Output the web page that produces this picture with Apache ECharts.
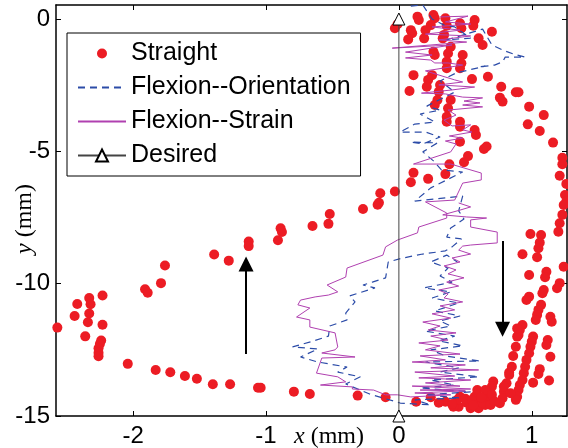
<!DOCTYPE html>
<html>
<head>
<meta charset="utf-8">
<script src="https://cdn.jsdelivr.net/npm/echarts@6/dist/echarts.min.js"></script>
<style>
  html, body { margin: 0; padding: 0; background: #fff; }
  #chart { width: 568px; height: 448px; }
</style>
</head>
<body>
<div id="chart"></div>
<script>
// Tick positions (mm)
const xTicks = [-2, -1, 0, 1];
const yTicks = [0, -5, -10, -15];

// Straight-finger tip positions [x, y] in mm
const straightPts = [
  [-2.57,-11.66],[-2.42,-10.77],[-2.44,-11.22],[-2.33,-10.54],[-2.32,-10.78],[-2.33,-11.13],[-2.34,-11.46],[-2.36,-11.99],
  [-2.23,-10.45],[-2.23,-11.55],[-2.24,-12.15],[-2.25,-12.28],[-2.26,-12.44],[-2.26,-12.61],[-2.26,-12.74],[-2.04,-13.03],
  [-1.83,-13.26],[-1.72,-13.35],[-1.61,-13.49],[-1.52,-13.59],[-1.91,-10.21],[-1.89,-10.34],[-1.79,-9.98],[-1.76,-9.31],
  [-1.40,-13.80],[-1.27,-13.80],[-1.04,-13.93],[-1.06,-13.93],[-0.79,-14.08],[-0.67,-14.17],[-0.31,-14.23],[-0.10,-14.29],
  [-1.39,-8.90],[-1.28,-9.13],[-1.13,-8.41],[-1.13,-8.58],[-0.91,-8.36],[-0.89,-7.91],[-0.88,-8.05],[-0.65,-7.82],
  [-0.53,-7.74],[-0.52,-7.37],[-0.27,-7.18],[-0.16,-7.02],[-0.15,-6.94],[-0.14,-6.58],[-0.03,-6.52],
  [0.11,-5.81],[0.09,-6.17],[0.22,-6.04],[0.35,-5.86],[0.38,-5.49],[0.49,-5.41],[0.52,-5.18],[0.46,-4.64],[0.64,-4.91],[0.66,-4.82],
  [-0.03,-0.35],[-0.01,-0.20],[0.14,0.09],[0.15,-0.04],[0.09,-0.42],[0.10,-0.54],[0.07,-0.77],[0.26,0.15],[0.27,0.03],
  [0.24,-0.23],[0.20,-0.42],[0.19,-0.73],[0.35,0.03],[0.36,-0.25],[0.34,-0.60],[0.33,-0.73],[0.46,-0.16],[0.47,-0.35],
  [0.57,-0.04],[0.56,-0.25],[0.60,-0.73],[0.63,-0.98],[0.70,-0.48],[0.26,-1.24],[0.27,-1.36],[0.39,-1.05],[0.37,-1.30],
  [0.36,-1.61],[0.36,-1.86],[0.48,-1.36],[0.47,-1.67],[0.46,-1.86],[0.11,-2.12],[0.08,-2.72],[0.25,-2.12],[0.22,-2.30],
  [0.21,-2.56],[0.31,-2.49],[0.30,-2.75],[0.55,-2.27],[0.67,-2.18],[0.29,-3.06],[0.27,-3.25],[0.39,-3.06],[0.37,-3.37],
  [0.36,-3.69],[0.36,-3.88],[0.46,-3.88],[0.46,-4.07],[0.57,-4.19],[0.58,-4.38],
  [0.77,-2.56],[0.88,-2.77],[0.90,-2.77],[0.76,-2.97],[0.78,-3.12],[0.98,-3.31],[1.09,-3.63],[0.97,-3.98],[1.06,-4.23],
  [1.16,-4.67],[1.23,-5.24],[1.23,-5.49],[1.21,-5.92],[1.26,-6.23],[1.25,-6.65],[1.26,-6.90],
  [1.24,-7.03],[1.23,-7.40],[1.21,-7.72],[1.20,-8.04],[0.99,-8.12],[1.07,-8.16],[1.06,-8.45],[1.05,-8.66],[0.93,-8.89],
  [1.04,-9.00],[1.24,-9.36],[0.98,-9.67],[1.11,-9.55],[1.10,-9.76],[1.21,-9.98],[1.19,-10.17],[1.09,-10.24],[1.08,-10.36],
  [0.98,-10.49],[0.96,-10.62],[1.07,-10.80],[1.05,-10.99],[1.04,-11.18],[1.03,-11.37],[1.14,-11.25],[1.15,-11.44],
  [0.93,-11.56],[0.91,-11.75],[0.89,-12.00],[1.01,-12.00],[1.00,-12.19],[1.12,-12.13],[1.11,-12.32],[0.88,-12.38],
  [0.99,-12.38],[0.98,-12.63],[0.86,-12.73],[0.96,-12.88],[1.14,-12.76],[0.95,-13.14],[1.06,-13.23],[0.83,-13.36],
  [0.94,-13.38],[1.05,-13.41],[1.13,-13.66],[0.93,-13.64],[0.91,-13.83],[1.01,-13.74],[0.81,-13.76],[0.71,-13.70],
  [0.70,-13.89],[0.90,-14.02],[0.89,-14.27],[0.88,-14.39],[0.79,-14.08],[0.78,-14.33],[0.76,-14.52],[0.67,-14.08],
  [0.66,-14.33],[0.65,-14.58],[0.57,-14.27],[0.59,-14.52],[0.60,-14.71],
  [0.13,-14.46],[0.24,-14.29],[0.35,-14.46],[0.46,-14.27],[0.45,-14.65],[0.51,-14.50],[0.54,-14.71],[0.59,-14.02],
  [0.65,-14.02],[0.63,-14.52],[0.69,-14.58],[0.79,-13.89],[0.83,-13.45],[0.85,-13.14],[0.90,-11.94],[0.89,-11.69],
  [0.84,-14.14],[0.41,-14.65],[0.44,-14.39],[0.50,-14.35],[0.55,-14.40],[0.62,-14.30],[0.70,-14.20],[0.72,-14.45],
  [0.40,-14.55],[0.30,-14.50],[0.56,-14.60]
];

// Flexion tracked by orientation sensing [x, y] in mm
const orientationPts = [
  [0.09,0.49],[0.18,0.53],[0.25,0.00],[0.34,-0.23],[0.42,-0.30],[0.54,-0.72],[0.36,-0.79],[0.63,-0.38],[0.66,-0.64],
  [0.70,-0.98],[0.78,-1.17],[0.86,-1.32],[0.95,-1.44],[0.80,-1.44],[0.78,-1.62],[0.72,-1.74],[0.60,-1.81],[0.65,-1.78],
  [0.43,-2.04],[0.31,-2.34],[0.42,-2.76],[0.21,-3.29],[0.31,-3.44],[0.16,-3.59],[0.27,-3.89],[0.12,-3.97],[0.01,-4.27],
  [0.20,-4.27],[0.31,-4.46],[0.18,-4.72],[0.09,-4.65],[0.29,-4.68],[0.18,-5.02],[0.26,-5.36],[0.32,-5.70],[0.48,-5.78],
  [0.24,-6.38],[0.12,-6.88],[0.48,-6.69],[0.45,-7.25],[0.49,-7.56],[0.39,-7.90],[0.36,-8.24],[0.47,-8.31],[0.40,-8.61],
  [0.35,-8.76],[0.18,-8.88],[0.03,-9.03],[-0.08,-9.18],[-0.10,-9.78],[-0.20,-9.94],[-0.27,-10.05],[-0.18,-10.16],
  [-0.37,-10.46],[-0.33,-10.69],[-0.40,-11.11],[-0.39,-11.37],[-0.52,-11.60],[-0.53,-11.98],[-0.64,-12.16],[-0.80,-12.39],
  [-0.61,-12.47],[-0.74,-12.77],[-0.61,-12.96],[-0.39,-13.15],[-0.46,-13.34],[-0.29,-13.52],[-0.40,-13.79],[-0.22,-14.17],
  [0.01,-14.51],[0.24,-14.58],[0.12,-14.39],[0.46,-14.32],[0.20,-14.20],[0.54,-14.09],[0.16,-13.94],[0.42,-13.83],
  [0.24,-13.64],[0.60,-13.52],[0.31,-13.34],[0.45,-13.18],[0.20,-12.96],[0.61,-12.92],[0.35,-12.73],[0.24,-12.50],
  [0.48,-12.35],[0.30,-12.16],[0.42,-11.98],[0.20,-11.79],[0.39,-11.60],[0.31,-11.41],[0.46,-11.22],[0.27,-11.03],
  [0.45,-10.73],[0.25,-10.54],[0.39,-10.31],[0.19,-10.16],[0.40,-9.94],[0.31,-9.71],[0.37,-9.41],[0.24,-9.18],
  [0.36,-8.92],[0.44,-9.18]
];

// Flexion tracked by strain sensing [x, y] in mm
const strainPts = [
  [0.31,0.08],[0.52,0.11],[0.35,-0.11],[0.54,-0.19],[0.25,-0.30],[0.46,-0.42],[0.20,-0.57],[0.54,-0.64],[0.30,-0.79],
  [0.51,-0.87],[-0.05,-1.10],[0.40,-0.98],[0.05,-1.25],[0.25,-1.36],[0.05,-1.47],[0.24,-1.55],[0.27,-1.66],[0.37,-1.66],
  [0.48,-1.74],[0.20,-1.96],[0.42,-2.30],[0.48,-2.38],[0.30,-2.49],[0.57,-2.57],[0.40,-2.68],[0.17,-2.80],[0.35,-2.83],
  [0.48,-2.95],[0.63,-2.98],[0.49,-3.10],[0.61,-3.17],[0.48,-3.25],[0.63,-3.32],[0.37,-3.44],[0.43,-3.63],[0.34,-3.82],
  [0.40,-4.04],[0.54,-4.00],[0.48,-4.19],[0.55,-4.27],[0.38,-4.42],[0.48,-4.50],[0.35,-4.61],[0.43,-4.72],[0.39,-5.02],
  [0.25,-5.25],[0.11,-5.48],[0.39,-5.48],[0.62,-5.82],[0.62,-6.08],[0.48,-6.20],[0.42,-6.84],[0.20,-6.91],[0.36,-7.33],
  [0.36,-7.52],[0.15,-7.86],[0.14,-8.08],[-0.01,-8.35],[-0.10,-8.61],[-0.12,-8.92],[-0.39,-9.41],[-0.40,-9.75],
  [-0.54,-10.05],[-0.46,-10.31],[-0.53,-10.43],[-0.63,-10.50],[-0.74,-10.62],[-0.76,-10.80],[-0.67,-10.92],[-0.77,-11.26],
  [-0.67,-11.37],[-0.67,-11.64],[-0.48,-11.86],[-0.46,-12.39],[-0.48,-12.50],[-0.58,-12.62],[-0.33,-12.77],[-0.58,-12.81],
  [-0.62,-13.38],[-0.46,-13.52],[-0.40,-13.71],[-0.59,-13.83],[-0.35,-13.90],[-0.35,-13.98],[-0.19,-14.02],[-0.10,-14.20],
  [-0.01,-14.20],[0.09,-14.28],[0.39,-14.20],[0.12,-14.13],[0.50,-14.05],[0.16,-14.02],[0.54,-13.98],[0.10,-13.87],
  [0.46,-13.87],[0.20,-13.75],[0.54,-13.64],[0.15,-13.56],[0.42,-13.49],[0.12,-13.34],[0.60,-13.26],[0.24,-13.18],
  [0.50,-13.07],[0.10,-12.96],[0.35,-12.88],[0.16,-12.73],[0.46,-12.66],[0.20,-12.50],[0.31,-12.35],[0.15,-12.24],
  [0.37,-12.13],[0.24,-11.98],[0.43,-11.86],[0.22,-11.75],[0.31,-11.60],[0.18,-11.45],[0.39,-11.30],[0.25,-11.14],
  [0.42,-10.99],[0.31,-10.84],[0.48,-10.69],[0.34,-10.54],[0.37,-10.39],[0.30,-10.24],[0.45,-10.09],[0.36,-9.94],
  [0.49,-9.78],[0.37,-9.63],[0.43,-9.48],[0.34,-9.33],[0.46,-9.18],[0.40,-9.03],[0.54,-8.88],[0.45,-8.73],[0.48,-8.58],
  [0.54,-8.54],[0.74,-8.46],[0.74,-8.05],[0.54,-7.86],[0.54,-7.59],[0.66,-7.52],[0.51,-7.48],[0.33,-7.40],[0.46,-7.22],
  [0.54,-7.10],[0.45,-6.95]
];

// Desired straight path
const desiredPts = [[0, 0], [0, -15]];

// Direction-of-motion arrows (shaft start, head centre)
const upArrow = [[-1.15, -12.66], [-1.15, -9.26]];
const downArrow = [[0.78, -8.39], [0.78, -11.72]];

const chart = echarts.init(document.getElementById('chart'), null, { renderer: 'canvas' });

const labelFont = { fontSize: 24, fontFamily: 'Liberation Sans, Arial, sans-serif', color: '#000' };
// legend entries for plain lines carry no marker
const noMarker = { color: 'rgba(0,0,0,0)', borderColor: 'rgba(0,0,0,0)', borderWidth: 0, opacity: 0 };

function xAxisDef(pos, showLabel) {
  return {
    type: 'value', position: pos, min: -2.58, max: 1.265,
    axisLine: { show: true, onZero: false, lineStyle: { color: '#000', width: 1.5 } },
    axisTick: { show: true, inside: true, length: 5, customValues: xTicks, lineStyle: { color: '#000', width: 1 } },
    axisLabel: Object.assign({ show: showLabel, customValues: xTicks, margin: 8 }, labelFont),
    splitLine: { show: false }
  };
}
function yAxisDef(pos, showLabel) {
  return {
    type: 'value', position: pos, min: -15, max: 0.53,
    axisLine: { show: true, onZero: false, lineStyle: { color: '#000', width: 1.5 } },
    axisTick: { show: true, inside: true, length: 5, customValues: yTicks, lineStyle: { color: '#000', width: 1 } },
    axisLabel: Object.assign({ show: showLabel, customValues: yTicks, margin: 6 }, labelFont),
    splitLine: { show: false }
  };
}

const option = {
  animation: false,
  backgroundColor: '#fff',
  grid: { left: 56, right: 1, top: 5, bottom: 32 },
  xAxis: [xAxisDef('bottom', true), xAxisDef('top', false)],
  yAxis: [yAxisDef('left', true), yAxisDef('right', false)],
  legend: {
    orient: 'vertical', left: 67, top: 33,
    padding: [8, 10, 8, 10], itemGap: 9, itemWidth: 48, itemHeight: 15,
    backgroundColor: '#fff', borderColor: '#000', borderWidth: 1, borderRadius: 0,
    selectedMode: false,
    textStyle: { fontSize: 25, lineHeight: 24, fontFamily: 'Liberation Sans, Arial, sans-serif', color: '#000' },
    data: [
      { name: 'Straight', icon: 'path://M0,0M48,15M19,7.5A5,5,0,1,0,29,7.5A5,5,0,1,0,19,7.5Z' },
      { name: 'Flexion--Orientation', itemStyle: noMarker },
      { name: 'Flexion--Strain', itemStyle: noMarker },
      'Desired'
    ]
  },
  graphic: [
    {
      type: 'text', x: 329, y: 437,
      style: {
        text: '{i|x} (mm)', align: 'center', verticalAlign: 'middle',
        fontFamily: 'Liberation Serif, Times New Roman, serif', fontSize: 24, fill: '#000',
        rich: { i: { fontStyle: 'italic', fontFamily: 'Liberation Serif, Times New Roman, serif', fontSize: 24 } }
      }
    },
    {
      type: 'text', x: 25, y: 219, rotation: Math.PI / 2,
      style: {
        text: '{i|y} (mm)', align: 'center', verticalAlign: 'middle',
        fontFamily: 'Liberation Serif, Times New Roman, serif', fontSize: 24, fill: '#000',
        rich: { i: { fontStyle: 'italic', fontFamily: 'Liberation Serif, Times New Roman, serif', fontSize: 24 } }
      }
    }
  ],
  series: [
    {
      name: 'Straight', type: 'scatter', data: straightPts,
      symbol: 'circle', symbolSize: 10,
      itemStyle: { color: '#ec1c24', opacity: 1 }
    },
    {
      name: 'Flexion--Orientation', type: 'line', data: orientationPts,
      symbol: 'none', showSymbol: false,
      lineStyle: { color: '#2c4ca8', width: 1.2, type: [7, 5] },
      itemStyle: { color: '#2c4ca8' }
    },
    {
      name: 'Flexion--Strain', type: 'line', data: strainPts,
      symbol: 'none', showSymbol: false,
      lineStyle: { color: '#b040b0', width: 1 },
      itemStyle: { color: '#b040b0' }
    },
    {
      name: 'Desired', type: 'line', data: desiredPts,
      symbol: 'triangle', symbolSize: 12, showSymbol: true, clip: false,
      lineStyle: { color: '#444', width: 1 },
      itemStyle: { color: '#fff', borderColor: '#000', borderWidth: 1 },
      markLine: {
        silent: true, animation: false,
        symbol: ['none', 'triangle'], symbolSize: 15,
        label: { show: false },
        lineStyle: { color: '#000', width: 2, type: 'solid' },
        itemStyle: { color: '#000' },
        data: [
          [{ coord: upArrow[0] }, { coord: upArrow[1] }],
          [{ coord: downArrow[0] }, { coord: downArrow[1] }]
        ]
      }
    }
  ]
};

chart.setOption(option);
</script>
</body>
</html>
